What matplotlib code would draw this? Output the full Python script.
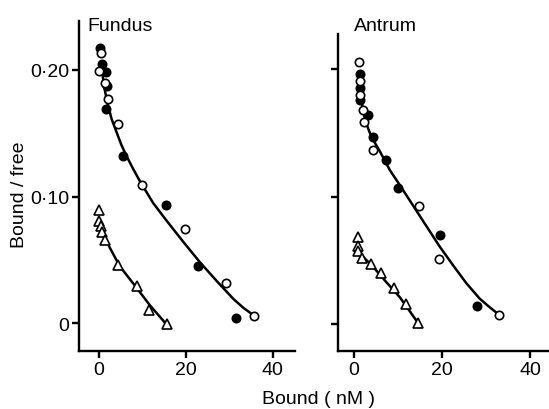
import matplotlib
matplotlib.use("Agg")
import matplotlib.pyplot as plt

plt.rcParams["font.family"] = ["Liberation Sans", "DejaVu Sans"]

# Fundus: filled circles, open circles, triangles (bound nM, bound/free)
fun_filled_x = [0.4, 0.8, 1.8, 1.85, 1.8, 5.5, 15.5, 22.9, 31.6]
fun_filled_y = [0.217, 0.205, 0.198, 0.187, 0.169, 0.132, 0.093, 0.045, 0.004]
fun_open_x = [0.5, 0.15, 1.5, 2.1, 4.5, 9.9, 19.8, 29.3, 35.7]
fun_open_y = [0.213, 0.199, 0.190, 0.177, 0.157, 0.109, 0.074, 0.032, 0.006]
fun_tri_x = [0.0, 0.07, 0.46, 0.8, 1.4, 4.5, 8.8, 11.5, 15.6]
fun_tri_y = [0.089, 0.081, 0.077, 0.072, 0.066, 0.046, 0.029, 0.0105, -0.001]

# fitted curves
fun_fit_x = [0.6, 1.2, 2.0, 3.0, 4.1, 5.2, 6.4, 7.9, 9.5, 12.5, 15.6, 19.5,
             23.3, 27.2, 31.0, 33.3, 35.3]
fun_fit_y = [0.205, 0.188, 0.174, 0.161, 0.151, 0.141, 0.132, 0.122, 0.112,
             0.095, 0.081, 0.064, 0.048, 0.033, 0.019, 0.012, 0.007]
fun_tfit_x = [0.3, 1.0, 2.5, 4.85, 8.7, 11.8, 15.6]
fun_tfit_y = [0.080, 0.072, 0.060, 0.045, 0.028, 0.014, -0.001]

# Antrum
ant_filled_x = [1.3, 1.45, 1.45, 3.1, 4.2, 7.3, 10.0, 19.4, 27.9]
ant_filled_y = [0.196, 0.185, 0.176, 0.164, 0.147, 0.129, 0.107, 0.070, 0.014]
ant_open_x = [1.2, 1.3, 1.4, 2.05, 2.3, 4.3, 14.7, 19.2, 32.8]
ant_open_y = [0.206, 0.191, 0.180, 0.168, 0.159, 0.137, 0.093, 0.051, 0.007]
ant_tri_x = [0.85, 0.9, 1.0, 1.75, 3.8, 6.05, 9.1, 11.9, 14.5]
ant_tri_y = [0.068, 0.061, 0.057, 0.052, 0.047, 0.040, 0.028, 0.016, 0.001]

ant_fit_x = [1.5, 2.0, 2.7, 3.6, 4.6, 5.8, 8.1, 10.4, 13.4, 16.4, 19.4, 22.5,
             25.5, 28.5, 30.5, 32.3]
ant_fit_y = [0.180, 0.168, 0.158, 0.150, 0.143, 0.136, 0.121, 0.109, 0.093,
             0.077, 0.061, 0.046, 0.032, 0.020, 0.014, 0.009]
ant_tfit_x = [1.2, 1.7, 4.3, 7.3, 10.4, 14.5]
ant_tfit_y = [0.057, 0.054, 0.045, 0.033, 0.021, 0.001]

x_ticks = [0, 20, 40]
y_ticks = [0, 0.10, 0.20]
y_ticklabels = ["0", "0\u00b710", "0\u00b720"]

fig = plt.figure(figsize=(5.49, 4.10), dpi=100)
axL = fig.add_axes([0.144, 0.142, 0.394, 0.804])
axR = fig.add_axes([0.616, 0.142, 0.382, 0.772])


def draw(ax, fx, fy, ox, oy, tx, ty, cx, cy, tcx, tcy):
    ax.plot(cx, cy, color="black", lw=1.8, zorder=2, solid_joinstyle="round")
    ax.plot(tcx, tcy, color="black", lw=1.8, zorder=2, solid_joinstyle="round")
    ax.plot(fx, fy, "o", ms=6, mfc="black", mec="black", mew=1.2, zorder=3)
    ax.plot(ox, oy, "o", ms=6, mfc="white", mec="black", mew=1.2, zorder=3)
    ax.plot(tx, ty, "^", ms=6.5, mfc="white", mec="black", mew=1.2, zorder=3)
    for s in ["top", "right"]:
        ax.spines[s].set_visible(False)
    for s in ["left", "bottom"]:
        ax.spines[s].set_linewidth(1.7)
    ax.set_xticks(x_ticks)
    ax.set_yticks(y_ticks)
    ax.tick_params(direction="out", length=5, width=1.7, labelsize=14, pad=2)


draw(axL, fun_filled_x, fun_filled_y, fun_open_x, fun_open_y, fun_tri_x, fun_tri_y,
     fun_fit_x, fun_fit_y, fun_tfit_x, fun_tfit_y)
axL.set_xlim(-4.5, 45.2)
axL.set_ylim(-0.0218, 0.2385)
axL.set_yticklabels(y_ticklabels)
axL.set_ylabel("Bound / free", fontsize=14)
axL.yaxis.set_label_coords(-0.236, 0.475)

draw(axR, ant_filled_x, ant_filled_y, ant_open_x, ant_open_y, ant_tri_x, ant_tri_y,
     ant_fit_x, ant_fit_y, ant_tfit_x, ant_tfit_y)
axR.set_xlim(-3.6, 44)
axR.set_ylim(-0.021, 0.2275)
axR.set_yticklabels([])

fig.text(87 / 549, 1 - 31 / 410, "Fundus", fontsize=14, va="baseline")
fig.text(354 / 549, 1 - 31 / 410, "Antrum", fontsize=14, va="baseline")
fig.text(319 / 549, 1 - 404 / 410, "Bound ( nM )", fontsize=14, ha="center",
         va="baseline")

fig.savefig("out.png", dpi=100)
